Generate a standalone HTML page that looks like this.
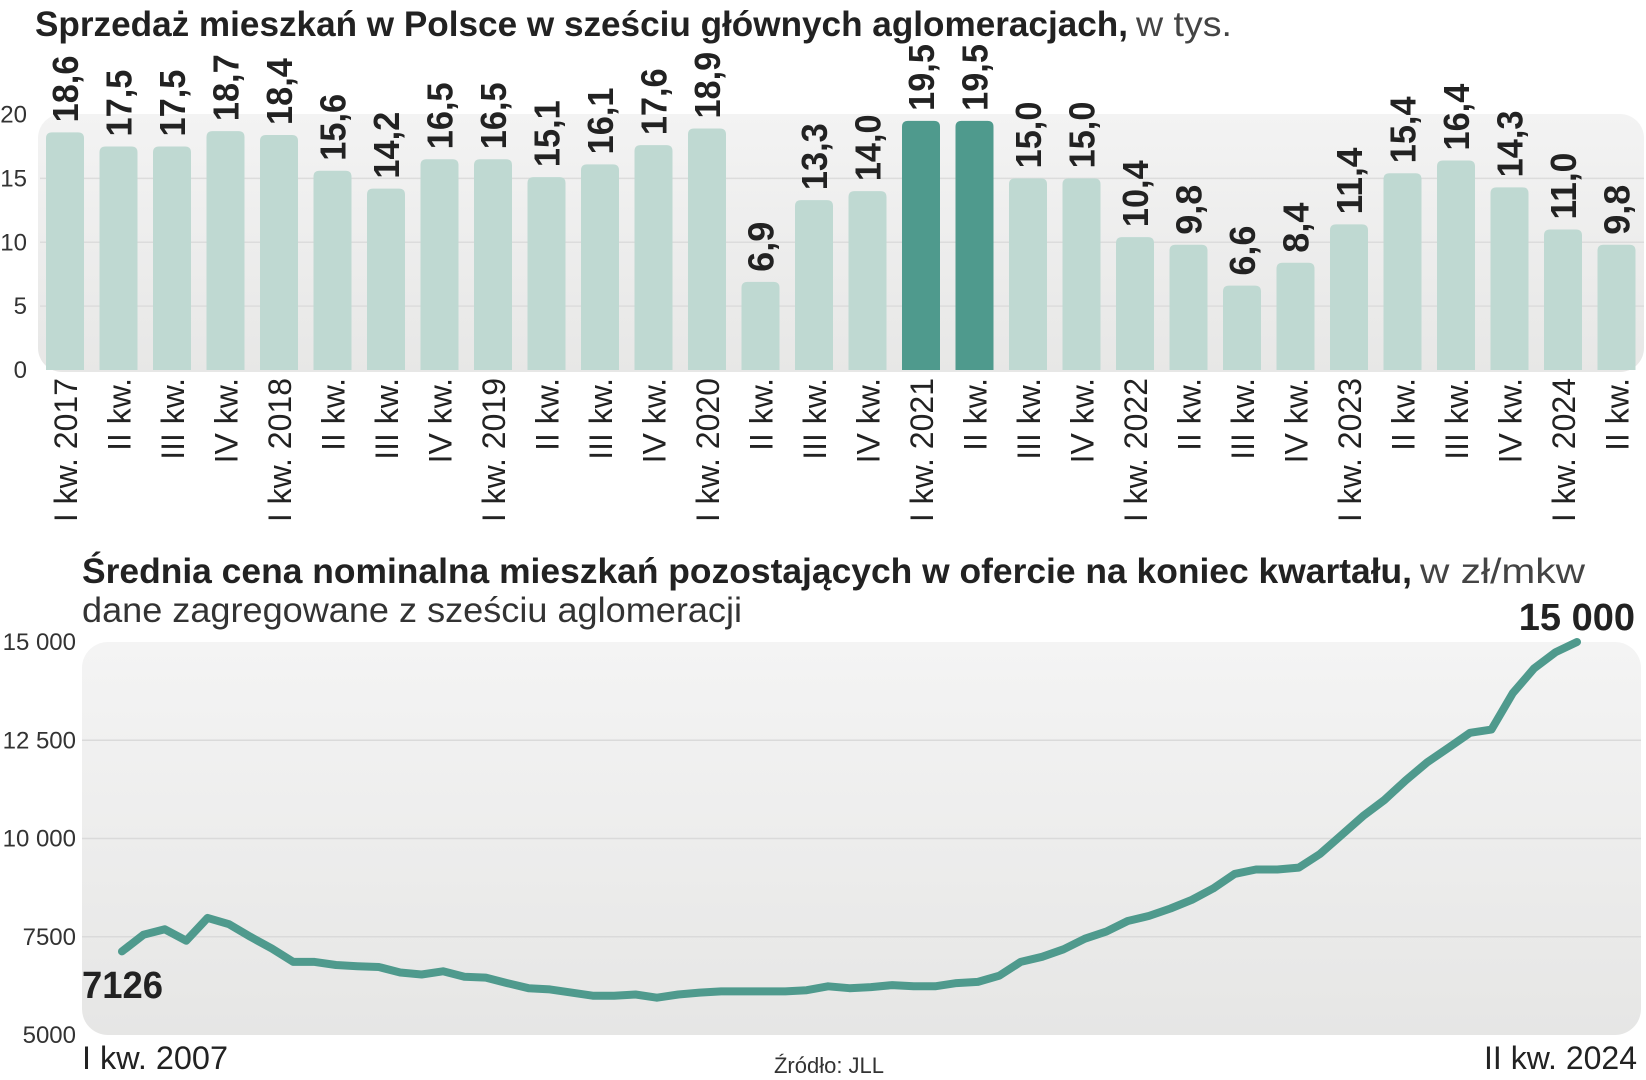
<!DOCTYPE html>
<html><head><meta charset="utf-8"><style>
html,body{margin:0;padding:0;background:#fff;}
svg{display:block;font-family:"Liberation Sans",sans-serif;}
</style></head><body>
<svg id="chart" width="1646" height="1080" viewBox="0 0 1646 1080" xmlns="http://www.w3.org/2000/svg">
<defs>
<linearGradient id="g1" x1="0" y1="0" x2="0" y2="1"><stop offset="0" stop-color="#f3f3f3"/><stop offset="1" stop-color="#e7e7e6"/></linearGradient>
<linearGradient id="g2" x1="0" y1="0" x2="0" y2="1"><stop offset="0" stop-color="#f4f4f4"/><stop offset="1" stop-color="#e6e6e5"/></linearGradient>
</defs>
<text x="35" y="36" font-size="35" fill="#222"><tspan font-weight="bold" textLength="1093" lengthAdjust="spacingAndGlyphs">Sprzedaż mieszkań w Polsce w sześciu głównych aglomeracjach,</tspan><tspan dx="8" textLength="96" lengthAdjust="spacingAndGlyphs" fill="#444">w tys.</tspan></text>
<rect x="38" y="114" width="1606" height="258" rx="24" fill="url(#g1)"/>
<g id="barGrid"></g>
<g id="bars"></g>
<text x="82" y="583" font-size="35" fill="#222"><tspan font-weight="bold" textLength="1330" lengthAdjust="spacingAndGlyphs">Średnia cena nominalna mieszkań pozostających w ofercie na koniec kwartału,</tspan><tspan dx="8" textLength="165" lengthAdjust="spacingAndGlyphs" fill="#444">w zł/mkw</tspan></text>
<text x="82" y="622" font-size="35" fill="#333" textLength="660" lengthAdjust="spacingAndGlyphs">dane zagregowane z sześciu aglomeracji</text>
<rect x="82" y="642" width="1559" height="393" rx="26" fill="url(#g2)"/>
<g id="lineGrid"></g>
<g id="lineG"></g>
<text x="82" y="998" font-size="38" font-weight="bold" fill="#222" textLength="81" lengthAdjust="spacingAndGlyphs">7126</text>
<text x="1635" y="630" font-size="38" font-weight="bold" fill="#222" text-anchor="end">15 000</text>
<text x="82" y="1069" font-size="32" fill="#222" textLength="146" lengthAdjust="spacingAndGlyphs">I kw. 2007</text>
<text x="1637" y="1069" font-size="32" fill="#222" text-anchor="end">II kw. 2024</text>
<text x="829" y="1073" font-size="22" fill="#333" text-anchor="middle">Źródło: JLL</text>
</svg>
<script>
const barCats = ["I kw. 2017","II kw.","III kw.","IV kw.","I kw. 2018","II kw.","III kw.","IV kw.","I kw. 2019","II kw.","III kw.","IV kw.","I kw. 2020","II kw.","III kw.","IV kw.","I kw. 2021","II kw.","III kw.","IV kw.","I kw. 2022","II kw.","III kw.","IV kw.","I kw. 2023","II kw.","III kw.","IV kw.","I kw. 2024","II kw."];
const barValues = [18.6,17.5,17.5,18.7,18.4,15.6,14.2,16.5,16.5,15.1,16.1,17.6,18.9,6.9,13.3,14.0,19.5,19.5,15.0,15.0,10.4,9.8,6.6,8.4,11.4,15.4,16.4,14.3,11.0,9.8];
const barHighlight = [16,17];
const barTicks = [0,5,10,15,20];
const lineValues = [7126,7550,7690,7400,7980,7820,7500,7200,6860,6860,6780,6750,6730,6590,6540,6620,6480,6460,6320,6190,6160,6080,6000,6000,6030,5950,6030,6080,6110,6110,6110,6110,6140,6240,6190,6220,6270,6240,6240,6320,6350,6510,6860,6990,7180,7450,7630,7900,8030,8220,8440,8730,9100,9210,9210,9260,9610,10090,10570,10980,11480,11940,12310,12690,12770,13700,14330,14740,15000];
const lineTicks = [5000,7500,10000,12500,15000];
const lineTickLabels = ["5000","7500","10 000","12 500","15 000"];

const NS="http://www.w3.org/2000/svg";
function mk(tag,attrs,parent,txt){const e=document.createElementNS(NS,tag);for(const k in attrs)e.setAttribute(k,attrs[k]);if(txt!==undefined)e.textContent=txt;parent.appendChild(e);return e;}
const by=v=>370-v*(255.5/20);
const bx=i=>46+i*53.5;
const BW=38;
const bg=document.getElementById('barGrid');
barTicks.forEach(t=>{
  if(t>0&&t<20){const l=mk('line',{x1:40,x2:1644,y1:by(t),y2:by(t),stroke:'#dcdcdc','stroke-width':1.5},bg);
  
  }
  const tx=mk('text',{x:27,y:by(t)+8,'font-size':24,fill:'#333','text-anchor':'end'},bg,String(t));
  
  
});
const bgG=document.getElementById('bars');
barValues.forEach((v,i)=>{
  const x=bx(i),y=by(v);
  const hl=barHighlight.includes(i);
  const r=mk('path',{d:`M${x},370 L${x},${y+6} Q${x},${y} ${x+6},${y} L${x+BW-6},${y} Q${x+BW},${y} ${x+BW},${y+6} L${x+BW},370 Z`,fill:hl?'#4f9a8d':'#bfd9d2'},bgG);
  
  
  const cx=x+BW/2;
  const s=v.toFixed(1).replace('.',',');
  const vl=mk('text',{x:0,y:0,transform:`translate(${cx+13},${y-10}) rotate(-90)`,'font-size':36,'font-weight':'bold',fill:'#222',textLength:s.length*16.7,lengthAdjust:'spacingAndGlyphs'},bgG,s);
  
  
  const cl=mk('text',{x:0,y:0,transform:`translate(${cx+12},378) rotate(-90)`,'font-size':32,fill:'#222','text-anchor':'end'},bgG,barCats[i]);
  
  
});
const ly=v=>1035-(v-5000)*(393/10000);
const lx=i=>122+i*(1577-122)/(lineValues.length-1);
const lg=document.getElementById('lineGrid');
lineTicks.forEach((t,i)=>{
  if(t>5000&&t<15000){const l=mk('line',{x1:82,x2:1641,y1:ly(t),y2:ly(t),stroke:'#dadada','stroke-width':1.5},lg);
  
  }
  const tx=mk('text',{x:76,y:ly(t)+8,'font-size':24,fill:'#333','text-anchor':'end'},lg,lineTickLabels[i]);
  
  
});
const pts=lineValues.map((v,i)=>lx(i).toFixed(1)+','+ly(v).toFixed(1)).join(' ');
const pl=mk('polyline',{points:pts,fill:'none',stroke:'#4f9a8d','stroke-width':8,'stroke-linejoin':'round','stroke-linecap':'round'},document.getElementById('lineG'));


</script>
</body></html>
